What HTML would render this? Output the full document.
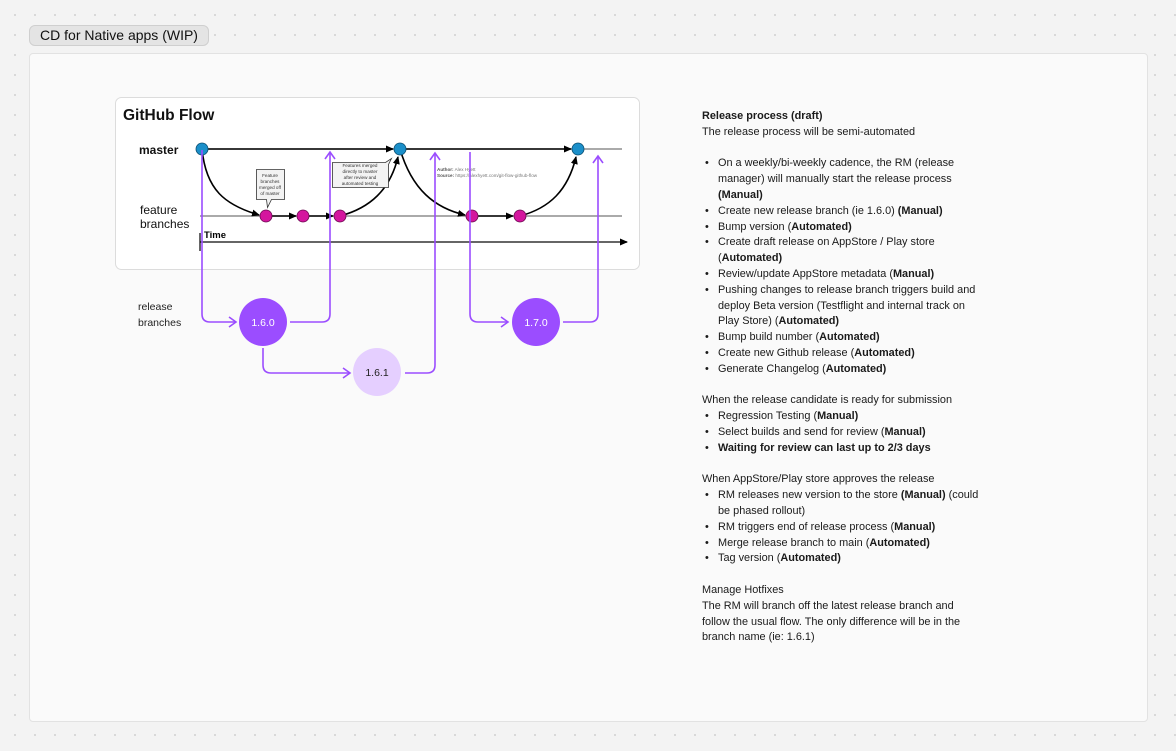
<!DOCTYPE html>
<html><head><meta charset="utf-8"><style>
html,body{margin:0;padding:0;width:1176px;height:751px;overflow:hidden;background:#f3f3f3;
background-image:radial-gradient(#cfcfcf 0.8px,transparent 0.9px);background-size:20px 20px;background-position:5px 5px;font-family:"Liberation Sans",sans-serif;}
.tag{position:absolute;left:29px;top:25px;width:178px;height:19px;background:#e4e4e4;border:1px solid #cfcfcf;border-radius:6px;font-size:14px;line-height:19px;color:#111;text-align:center;}
.frame{position:absolute;left:29px;top:53px;width:1117px;height:667px;background:#fafafa;border:1px solid #e2e2e2;border-radius:4px;}
.txt{position:absolute;left:702px;top:109px;font-size:10.9px;line-height:15.8px;color:#1a1a1a;white-space:nowrap;}
.txt div{height:15.8px}
.li{padding-left:16px;position:relative}
.li.b::before{content:"•";position:absolute;left:3px}
b{font-weight:bold}
</style></head><body>
<div class="tag">CD for Native apps (WIP)</div>
<div class="frame"></div>
<svg width="1176" height="751" style="position:absolute;left:0;top:0">
<defs>
<marker id="ab" markerWidth="8" markerHeight="8" refX="7" refY="4" orient="auto" markerUnits="userSpaceOnUse"><path d="M0,0.5 L8,4 L0,7.5 Z" fill="#000"/></marker>
<marker id="ap" markerWidth="10" markerHeight="12" refX="8" refY="6" orient="auto" markerUnits="userSpaceOnUse"><path d="M1,1 L8,6 L1,11" fill="none" stroke="#9b4dff" stroke-width="1.6"/></marker>
</defs>
<rect x="115.5" y="97.5" width="524" height="172" rx="6" fill="#fff" stroke="#dcdcdc"/>
<text x="123" y="120" font-size="15.5" font-weight="bold" fill="#111">GitHub Flow</text>
<text x="139" y="154" font-size="12" font-weight="bold" fill="#111">master</text>
<text x="140" y="214" font-size="12" fill="#111">feature</text>
<text x="140" y="228" font-size="12" fill="#111">branches</text>
<line x1="202" y1="149" x2="622" y2="149" stroke="#777" stroke-width="1.2"/>
<line x1="202" y1="149" x2="393" y2="149" stroke="#000" stroke-width="1.6" marker-end="url(#ab)"/>
<line x1="400" y1="149" x2="571" y2="149" stroke="#000" stroke-width="1.6" marker-end="url(#ab)"/>
<line x1="200" y1="216" x2="622" y2="216" stroke="#777" stroke-width="1.2"/>
<line x1="266" y1="216" x2="296" y2="216" stroke="#000" stroke-width="1.6" marker-end="url(#ab)"/>
<line x1="303" y1="216" x2="333" y2="216" stroke="#000" stroke-width="1.6" marker-end="url(#ab)"/>
<line x1="472" y1="216" x2="513" y2="216" stroke="#000" stroke-width="1.6" marker-end="url(#ab)"/>
<path d="M202,149 C206,190 225,205 259,215" fill="none" stroke="#000" stroke-width="1.6" marker-end="url(#ab)"/>
<path d="M340,216 C370,208 390,190 398,157" fill="none" stroke="#000" stroke-width="1.6" marker-end="url(#ab)"/>
<path d="M400,149 C412,190 435,208 465,215" fill="none" stroke="#000" stroke-width="1.6" marker-end="url(#ab)"/>
<path d="M520,216 C550,208 568,190 576,157" fill="none" stroke="#000" stroke-width="1.6" marker-end="url(#ab)"/>
<line x1="200" y1="242" x2="627" y2="242" stroke="#333" stroke-width="1.6" marker-end="url(#ab)"/>
<line x1="200" y1="233" x2="200" y2="251" stroke="#000" stroke-width="1.2"/>
<text x="204" y="238" font-size="9.5" font-weight="bold">Time</text>
<g fill="#1b8fc9" stroke="#0a4d70" stroke-width="0.8"><circle cx="202" cy="149" r="6"/><circle cx="400" cy="149" r="6"/><circle cx="578" cy="149" r="6"/></g>
<g fill="#d4169e" stroke="#6a0a50" stroke-width="0.8"><circle cx="266" cy="216" r="6"/><circle cx="303" cy="216" r="6"/><circle cx="340" cy="216" r="6"/><circle cx="472" cy="216" r="6"/><circle cx="520" cy="216" r="6"/></g>
<path d="M256.5,169.5 h28 v30 h-13 l-4,8 l-1,-8 h-10 z" fill="#f3f3f3" stroke="#333" stroke-width="0.8"/>
<g font-size="4.6" fill="#333" text-anchor="middle"><text x="270" y="177">Feature</text><text x="270" y="183">branches</text><text x="270" y="189">merged off</text><text x="270" y="195">of master</text></g>
<path d="M332.5,162.5 h53 l6,-4 l-3,6 v23 h-56 z" fill="#f3f3f3" stroke="#333" stroke-width="0.8"/>
<g font-size="4.6" fill="#333" text-anchor="middle"><text x="360" y="167">Features merged</text><text x="360" y="173">directly to master</text><text x="360" y="179">after review and</text><text x="360" y="185">automated testing</text></g>
<text x="437" y="171" font-size="4.6" fill="#777"><tspan font-weight="bold" fill="#555">Author:</tspan> Alex Hyett</text>
<text x="437" y="177" font-size="4.6" fill="#777"><tspan font-weight="bold" fill="#555">Source:</tspan> https://alexhyett.com/git-flow-github-flow</text>
<g fill="none" stroke="#9b4dff" stroke-width="1.6">
<path d="M202,150 V314 Q202,322 210,322 H236" marker-end="url(#ap)"/>
<path d="M290,322 H322 Q330,322 330,314 V152" marker-end="url(#ap)"/>
<path d="M263,348 V365 Q263,373 271,373 H350" marker-end="url(#ap)"/>
<path d="M405,373 H427 Q435,373 435,365 V153" marker-end="url(#ap)"/>
<path d="M470,152 V314 Q470,322 478,322 H508" marker-end="url(#ap)"/>
<path d="M563,322 H590 Q598,322 598,314 V156" marker-end="url(#ap)"/>
</g>
<circle cx="263" cy="322" r="24" fill="#9b4dff"/>
<circle cx="377" cy="372" r="24" fill="#e5cfff"/>
<circle cx="536" cy="322" r="24" fill="#9b4dff"/>
<g font-size="10.5" text-anchor="middle"><text x="263" y="326" fill="#fff">1.6.0</text><text x="377" y="376" fill="#222">1.6.1</text><text x="536" y="326" fill="#fff">1.7.0</text></g>
<text x="138" y="310" font-size="10.5" fill="#222">release</text>
<text x="138" y="326" font-size="10.5" fill="#222">branches</text>
</svg>
<div class="txt">
<div><b>Release process (draft)</b></div>
<div>The release process will be semi-automated</div>
<div></div>
<div class="li b">On a weekly/bi-weekly cadence, the RM (release</div>
<div class="li">manager) will manually start the release process</div>
<div class="li"><b>(Manual)</b></div>
<div class="li b">Create new release branch (ie 1.6.0) <b>(Manual)</b></div>
<div class="li b">Bump version (<b>Automated)</b></div>
<div class="li b">Create draft release on AppStore / Play store</div>
<div class="li">(<b>Automated)</b></div>
<div class="li b">Review/update AppStore metadata (<b>Manual)</b></div>
<div class="li b">Pushing changes to release branch triggers build and</div>
<div class="li">deploy Beta version (Testflight and internal track on</div>
<div class="li">Play Store) (<b>Automated)</b></div>
<div class="li b">Bump build number (<b>Automated)</b></div>
<div class="li b">Create new Github release (<b>Automated)</b></div>
<div class="li b">Generate Changelog (<b>Automated)</b></div>
<div></div>
<div>When the release candidate is ready for submission</div>
<div class="li b">Regression Testing (<b>Manual)</b></div>
<div class="li b">Select builds and send for review (<b>Manual)</b></div>
<div class="li b"><b>Waiting for review can last up to 2/3 days</b></div>
<div></div>
<div>When AppStore/Play store approves the release</div>
<div class="li b">RM releases new version to the store <b>(Manual)</b> (could</div>
<div class="li">be phased rollout)</div>
<div class="li b">RM triggers end of release process (<b>Manual)</b></div>
<div class="li b">Merge release branch to main (<b>Automated)</b></div>
<div class="li b">Tag version (<b>Automated)</b></div>
<div></div>
<div>Manage Hotfixes</div>
<div>The RM will branch off the latest release branch and</div>
<div>follow the usual flow. The only difference will be in the</div>
<div>branch name (ie: 1.6.1)</div>
</div>
</body></html>
